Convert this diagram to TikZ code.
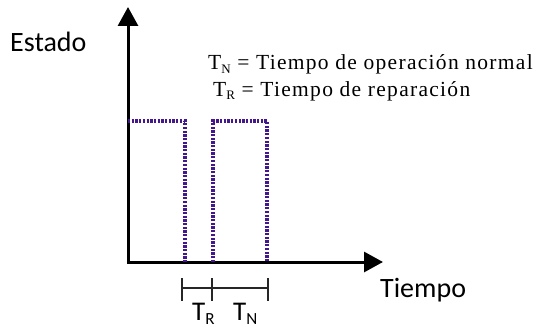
\documentclass[tikz,border=0pt]{standalone}
\usepackage{fontspec}
\setmainfont{Liberation Serif}
\newfontfamily\labelfont{Carlito}
\newfontfamily\eqfont[LetterSpace=6]{Liberation Serif}
\usetikzlibrary{arrows.meta}
\definecolor{sigpurple}{RGB}{68,24,140}
\begin{document}
\begin{tikzpicture}[x=1pt,y=-1pt,
  axis/.style={line width=3pt, -{Triangle[width=20pt,length=19pt]}},
  signal/.style={draw=sigpurple, line width=3.4pt, dash pattern=on 2.3pt off 1.4pt},
  bracketline/.style={line width=1.8pt, draw=black!85},
  lab/.style={font=\labelfont\fontsize{28}{30}\selectfont, inner sep=0, anchor=base west},
  eq/.style={font=\eqfont\fontsize{21.5}{24}\selectfont, inner sep=0, anchor=base west}]
\useasboundingbox (0,0) rectangle (547,329);
% axes
\coordinate (O) at (128,262);
\coordinate (ybot) at (128,263.5);
\coordinate (ytip) at (128,7);
\coordinate (xleft) at (126.5,262);
\coordinate (xtip) at (383,262);
\draw[axis] (ybot) -- (ytip);
\draw[axis] (xleft) -- (xtip);
% signal
\coordinate (s0) at (128,121);
\coordinate (s1) at (185,121);
\coordinate (s2) at (185,262);
\coordinate (s3) at (213,262);
\coordinate (s4) at (213,121);
\coordinate (s5) at (267,121);
\coordinate (s6) at (267,262);
\draw[signal] (s0) -- (s1) -- (s2);
\draw[signal] (s3) -- (s4) -- (s5) -- (s6);
% bracket
\coordinate (b1) at (182,288);
\coordinate (b3) at (268,288);
\coordinate (b1t) at (182,278);
\coordinate (b1b) at (182,301);
\coordinate (b2t) at (212,278);
\coordinate (b2b) at (212,301);
\coordinate (b3t) at (268,278);
\coordinate (b3b) at (268,301);
\draw[bracketline] (b1) -- (b3);
\draw[bracketline] (b1t) -- (b1b);
\draw[bracketline] (b2t) -- (b2b);
\draw[bracketline] (b3t) -- (b3b);
% labels
\node[lab] (estado) at (10,51.7) {Estado};
\node[lab] (tiempo) at (380,297) {Tiempo};
\node[lab, font=\labelfont\fontsize{27}{30}\selectfont] (tr) at (192,320.7) {T\raisebox{-4pt}{\fontsize{17}{17}\selectfont R}};
\node[lab, font=\labelfont\fontsize{27}{30}\selectfont] (tn) at (233,320.7) {T\raisebox{-4pt}{\fontsize{17}{17}\selectfont N}};
\node[eq] (eqn) at (208,70) {T\raisebox{-4pt}{\fontsize{13}{13}\selectfont N} = Tiempo de operación normal};
\node[eq] (eqr) at (213,96) {T\raisebox{-4pt}{\fontsize{13}{13}\selectfont R} = Tiempo de reparación};
\end{tikzpicture}
\end{document}
